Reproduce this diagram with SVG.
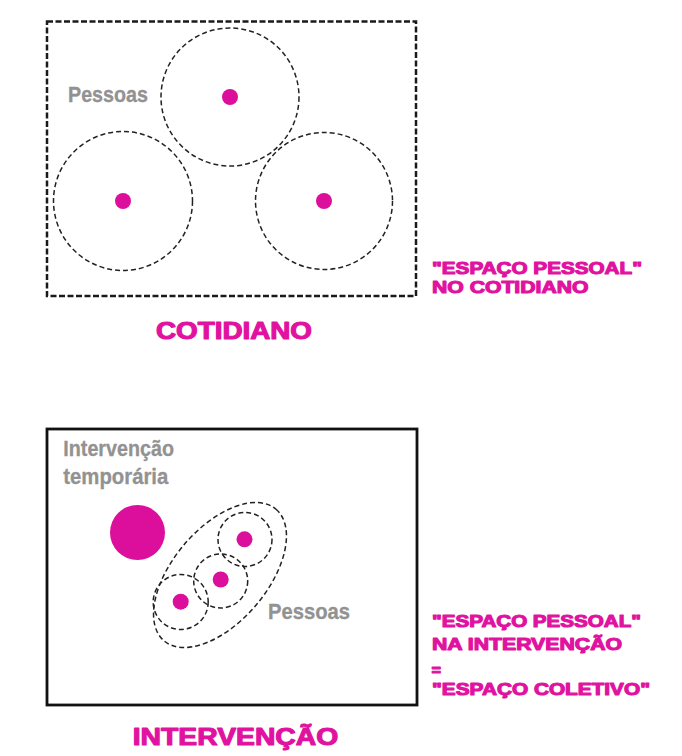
<svg xmlns="http://www.w3.org/2000/svg" width="682" height="756" viewBox="0 0 682 756">
<style>
.gray{font-family:"Liberation Sans",Arial,sans-serif;font-weight:bold;fill:#929292;stroke:#929292;stroke-width:0.3;}
.mag{font-family:"Liberation Sans",Arial,sans-serif;font-weight:bold;fill:#e0129f;stroke:#e0129f;stroke-width:1.1;stroke-linejoin:round;}
.ring{fill:none;stroke:#222222;stroke-width:1.5;stroke-dasharray:5 3;}
.dot{fill:#dc0f9c;}
</style>
<rect width="682" height="756" fill="#ffffff"/>
<g id="cotidiano">
  <rect x="47" y="21.5" width="369" height="274.5" fill="none" stroke="#1a1a1a" stroke-width="2.5" stroke-dasharray="6 2.5"/>
  <g id="pessoa-top"><circle class="ring" cx="230" cy="97" r="69"/><circle class="dot" cx="230" cy="97" r="8"/></g>
  <g id="pessoa-left"><circle class="ring" cx="123" cy="201" r="69.5"/><circle class="dot" cx="123" cy="201" r="8"/></g>
  <g id="pessoa-right"><circle class="ring" cx="324" cy="201" r="68.5"/><circle class="dot" cx="324" cy="201" r="8"/></g>
  <text class="gray" x="68" y="101.7" font-size="22.5" textLength="80" lengthAdjust="spacingAndGlyphs">Pessoas</text>
  <text class="mag" x="156" y="339.3" font-size="23.3" textLength="156" lengthAdjust="spacingAndGlyphs">COTIDIANO</text>
</g>
<g id="legenda-cotidiano">
  <text class="mag" x="432" y="274" font-size="17" textLength="210" lengthAdjust="spacingAndGlyphs">"ESPAÇO PESSOAL"</text>
  <text class="mag" x="432" y="293.3" font-size="17" textLength="156.5" lengthAdjust="spacingAndGlyphs">NO COTIDIANO</text>
</g>
<g id="intervencao">
  <rect x="47" y="429" width="370" height="276" fill="none" stroke="#111111" stroke-width="2.8"/>
  <text class="gray" x="63.3" y="456" font-size="22" textLength="110.7" lengthAdjust="spacingAndGlyphs">Intervenção</text>
  <text class="gray" x="63.3" y="484.3" font-size="22" textLength="105" lengthAdjust="spacingAndGlyphs">temporária</text>
  <circle id="intervencao-temporaria" class="dot" cx="137.5" cy="532.5" r="27.5"/>
  <ellipse id="espaco-coletivo" class="ring" cx="220" cy="575" rx="86.4" ry="47" transform="rotate(-49.6 220 575)"/>
  <g id="pessoa-a"><circle class="ring" cx="245" cy="539.5" r="27"/><circle class="dot" cx="244.5" cy="539.3" r="8"/></g>
  <g id="pessoa-b"><circle class="ring" cx="220.7" cy="581" r="27"/><circle class="dot" cx="220.7" cy="579.5" r="8"/></g>
  <g id="pessoa-c"><circle class="ring" cx="180.7" cy="602" r="27.5"/><circle class="dot" cx="180.7" cy="601.7" r="8"/></g>
  <text class="gray" x="268" y="619.3" font-size="21.5" textLength="82" lengthAdjust="spacingAndGlyphs">Pessoas</text>
  <text class="mag" x="132.7" y="745" font-size="24" textLength="205.6" lengthAdjust="spacingAndGlyphs">INTERVENÇÃO</text>
</g>
<g id="legenda-intervencao">
  <text class="mag" x="432" y="627" font-size="17" textLength="209" lengthAdjust="spacingAndGlyphs">"ESPAÇO PESSOAL"</text>
  <text class="mag" x="432" y="650" font-size="17" textLength="190" lengthAdjust="spacingAndGlyphs">NA INTERVENÇÃO</text>
  <text class="mag" x="431.5" y="676" font-size="17" textLength="9.5" lengthAdjust="spacingAndGlyphs">=</text>
  <text class="mag" x="432" y="695.4" font-size="17" textLength="218" lengthAdjust="spacingAndGlyphs">"ESPAÇO COLETIVO"</text>
</g>
</svg>
